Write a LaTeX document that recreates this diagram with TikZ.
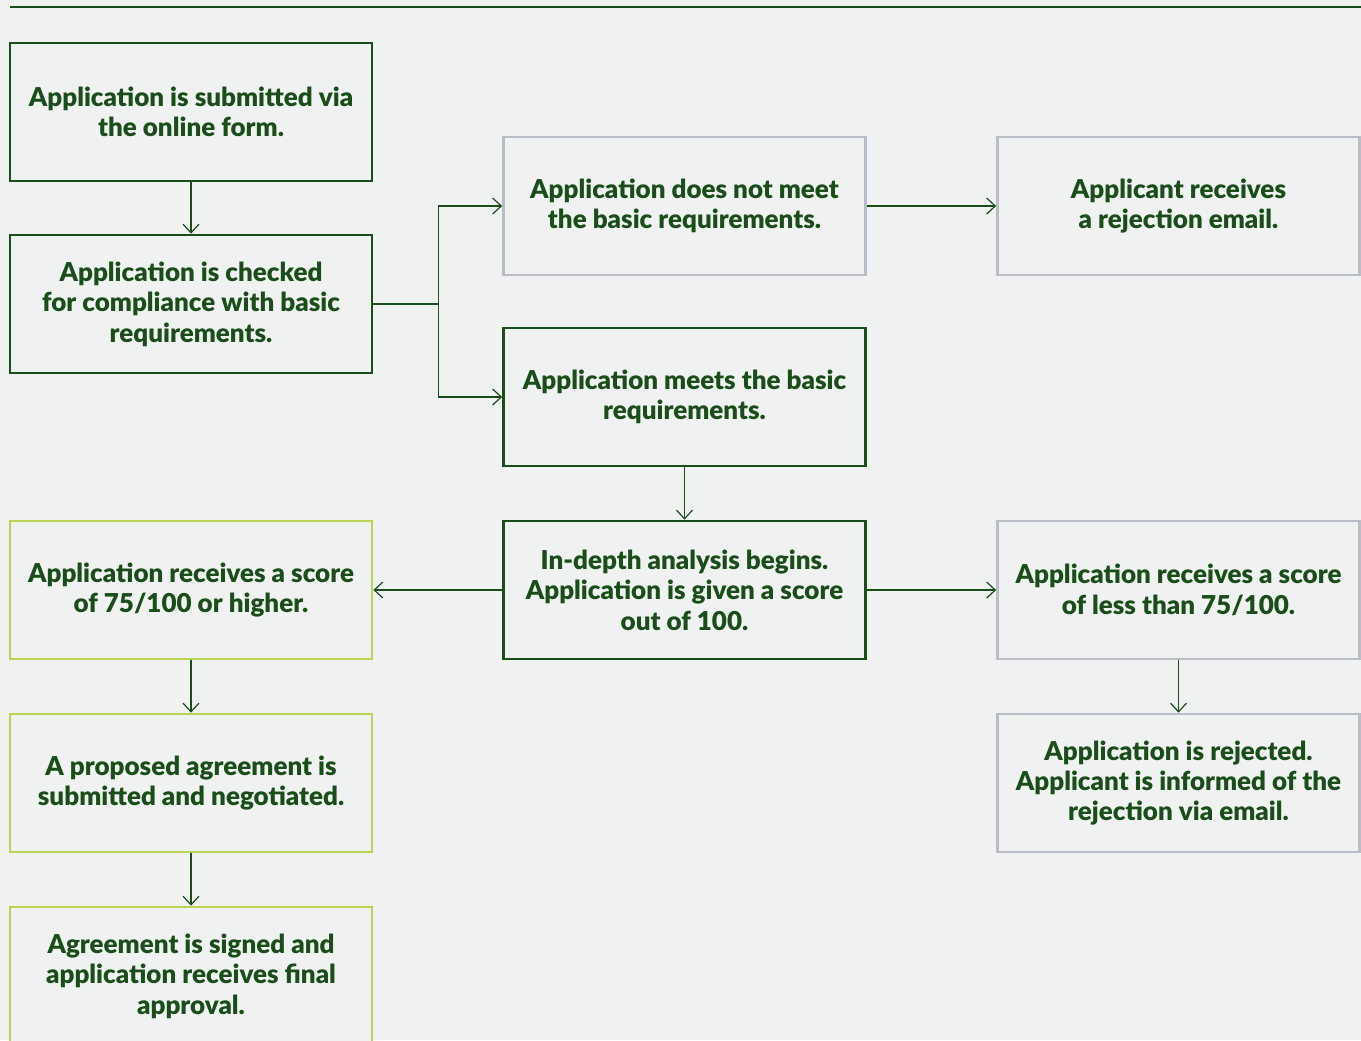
\documentclass[tikz,border=0pt]{standalone}
\usepackage{xcolor}
\usepackage{fontspec}
\setmainfont{Lato}[BoldFont={Lato Black}]
\usetikzlibrary{arrows.meta}

\definecolor{darkgreen}{HTML}{1B4D1B}
\definecolor{limegreen}{HTML}{B9D452}
\definecolor{boxgray}{HTML}{B9BDC5}
\definecolor{paper}{HTML}{F0F2F1}

\tikzset{
  box/.style={draw,line width=2pt,fill=paper,minimum width=271.5pt,minimum height=103.5pt,
    align=center,text=darkgreen,font=\fontsize{19.5}{22.8}\selectfont\bfseries,inner sep=0pt},
  okbox/.style={box,draw=darkgreen},
  greybox/.style={box,draw=boxgray},
  limebox/.style={box,draw=limegreen},
  arr/.style={draw=darkgreen,line width=0.9pt,-{Straight Barb[length=6.5pt,width=12pt,line width=0.9pt]}}
}

\begin{document}
\begin{tikzpicture}[x=0.75pt,y=-0.75pt]
      \fill[paper] (0,0) rectangle (1361,1040);
      \useasboundingbox (0,0) rectangle (1361,1040);
      \draw[darkgreen,line width=1.6pt] (10,7) -- (1361,7);

      \node[okbox] (submit) at (191,112) {Application is submitted via\\the online form.};
      \node[okbox] (check) at (191,304) {Application is checked\\for compliance with basic\\requirements.};
      \node[greybox] (fail) at (684.5,206) {Application does not meet\\the basic requirements.};
      \node[greybox] (email) at (1178.5,206) {Applicant receives\\a rejection email.};
      \node[okbox] (meets) at (684.5,397) {Application meets the basic\\requirements.};
      \node[okbox] (analysis) at (684.5,590) {In-depth analysis begins.\\Application is given a score\\out of 100.};
      \node[limebox] (high) at (191,590) {Application receives a score\\of 75/100 or higher.};
      \node[greybox] (low) at (1178.5,590) {Application receives a score\\of less than 75/100.};
      \node[limebox] (propose) at (191,783) {A proposed agreement is\\submitted and negotiated.};
      \node[greybox] (rejected) at (1178.5,783) {Application is rejected.\\Applicant is informed of the\\rejection via email.};
      \node[limebox] (sign) at (191,976) {Agreement is signed and\\application receives final\\approval.};

      \draw[arr] (submit) -- (check);
      \draw[arr] (check.east) -- ++(65,0) |- (fail.west);
      \draw[arr] (check.east) -- ++(65,0) |- (meets.west);
      \draw[arr] (fail) -- (email);
      \draw[arr] (meets) -- (analysis);
      \draw[arr] (analysis) -- (high);
      \draw[arr] (analysis) -- (low);
      \draw[arr] (high) -- (propose);
      \draw[arr] (propose) -- (sign);
      \draw[arr] (low) -- (rejected);
    \end{tikzpicture}
\end{document}
